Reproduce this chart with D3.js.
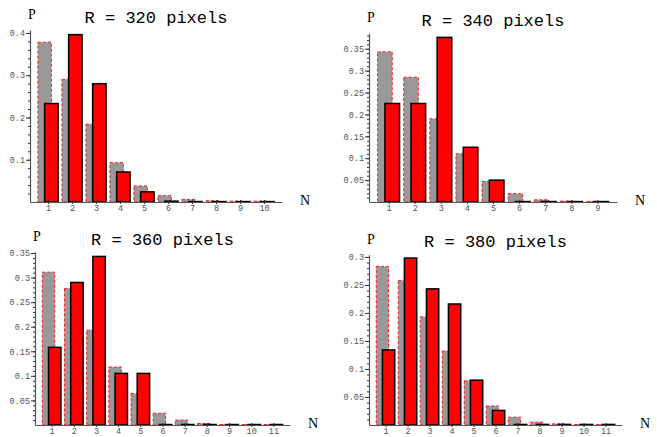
<!DOCTYPE html>
<html>
<head>
<meta charset="utf-8">
<script src="https://cdn.jsdelivr.net/npm/d3@7"></script>
<style>
  body { margin: 0; background: #fff; }
  svg { display: block; }
  .tick text { font-family: "Liberation Mono", "Courier New", monospace; font-size: 8.5px; fill: #555; }
  .domain { stroke: #555; }
  .tick line { stroke: #333; }
</style>
</head>
<body>
<div id="chart"></div>
<script>
var radii = [320, 340, 360, 380]

var exp320 = [0.378, 0.290, 0.184, 0.093, 0.038, 0.015, 0.006, 0.003, 0.002, 0.002]
var sim320 = [0.233, 0.396, 0.280, 0.071, 0.024, 0.002, 0.001, 0.001, 0.001, 0.001]

var exp340 = [0.343, 0.285, 0.190, 0.110, 0.047, 0.019, 0.005, 0.002, 0.001]
var sim340 = [0.225, 0.225, 0.376, 0.125, 0.050, 0.001, 0.001, 0.001, 0.001]

var exp360 = [0.311, 0.278, 0.193, 0.118, 0.064, 0.024, 0.010, 0.003, 0.001, 0.001, 0.001]
var sim360 = [0.158, 0.290, 0.343, 0.105, 0.105, 0.001, 0.001, 0.001, 0.001, 0.001, 0.001]

var exp380 = [0.283, 0.258, 0.193, 0.132, 0.079, 0.034, 0.014, 0.005, 0.002, 0.001, 0.001]
var sim380 = [0.134, 0.298, 0.243, 0.216, 0.080, 0.026, 0.001, 0.001, 0.001, 0.001, 0.001]

// Graduations de l'axe P
var ticks01  = [0.1, 0.2, 0.3, 0.4]
var ticks005 = [0.05, 0.1, 0.15, 0.2, 0.25, 0.3, 0.35]
var ticks005b = [0.05, 0.1, 0.15, 0.2, 0.25, 0.3]

// Haut de l'axe P pour chaque graphique
var yTops = [0.407, 0.386, 0.352, 0.304]

var expSeries = [exp320, exp340, exp360, exp380]
var simSeries = [sim320, sim340, sim360, sim380]
var yTickSets = [ticks01, ticks005, ticks005, ticks005b]
var minorSteps = [0.02, 0.01, 0.01, 0.01]

// Emplacement de chaque graphique (pixels)
var frames = [
  {left: 30,  right: 282, top: 30,    bottom: 202},
  {left: 369, right: 617, top: 33,    bottom: 202},
  {left: 35,  right: 290, top: 252,   bottom: 425},
  {left: 369, right: 622, top: 254.7, bottom: 425}
]

var svg = d3.select("#chart")
  .append("svg")
    .attr("width", 657)
    .attr("height", 437)

var barW = 0.56   // largeur d'une barre en unités de N
var shift = 0.14  // décalage des deux séries

radii.forEach(function(r, i) {
  var f = frames[i]
  var exp = expSeries[i], sim = simSeries[i]
  var n = exp.length
  var cats = d3.range(1, n + 1)

  var x = d3.scaleLinear().domain([0.25, n + 0.75]).range([f.left, f.right])
  var y = d3.scaleLinear().domain([0, yTops[i]]).range([f.bottom, f.top])
  var g = svg.append("g")

  // Barres grises (mesure)
  g.selectAll("rect.exp")
    .data(exp)
    .join("rect")
      .attr("class", "exp")
      .attr("x", (d, k) => x(cats[k] - shift - barW / 2))
      .attr("width", (d, k) => x(barW) - x(0))
      .attr("y", d => y(d))
      .attr("height", d => y(0) - y(d))
      .attr("fill", "#999")
      .attr("stroke", "#ff1a1a")
      .attr("stroke-width", 1)
      .attr("stroke-dasharray", "3,2")

  // Barres rouges (simulation)
  g.selectAll("rect.sim")
    .data(sim)
    .join("rect")
      .attr("class", "sim")
      .attr("x", (d, k) => x(cats[k] + shift - barW / 2))
      .attr("width", (d, k) => x(barW) - x(0))
      .attr("y", d => y(d))
      .attr("height", d => y(0) - y(d))
      .attr("fill", "#ff0000")
      .attr("stroke", "#000")
      .attr("stroke-width", 1.5)

  // Petites graduations de l'axe P
  var minor = d3.range(minorSteps[i], yTops[i], minorSteps[i])
  g.append("g")
    .attr("transform", "translate(" + f.left + ",0)")
    .call(d3.axisLeft(y).tickValues(minor).tickSize(2).tickFormat(""))
    .call(a => a.select(".domain").remove())

  // Axe P
  g.append("g")
    .attr("transform", "translate(" + f.left + ",0)")
    .call(d3.axisLeft(y).tickValues(yTickSets[i]).tickSize(4).tickSizeOuter(0).tickPadding(1)
      .tickFormat(d => String(+d.toFixed(2))))
    .call(a => a.select(".domain").attr("stroke-width", 1.2))

  // Axe N
  g.append("g")
    .attr("transform", "translate(0," + f.bottom + ")")
    .call(d3.axisBottom(x).tickValues(cats).tickSize(2).tickSizeOuter(0).tickPadding(1)
      .tickFormat(d3.format("d")))
    .call(a => a.select(".domain").attr("stroke-width", 1.2))
    .call(a => a.selectAll(".tick line").attr("y1", -2))

  // Titre et noms des axes
  g.append("text")
    .attr("x", (f.left + f.right) / 2)
    .attr("y", f.top - 7.5)
    .attr("text-anchor", "middle")
    .style("font-family", "'Liberation Mono', 'Courier New', monospace")
    .style("font-size", "17px")
    .text("R = " + r + " pixels")

  g.append("text")
    .attr("x", f.left - 2)
    .attr("y", f.top - 11)
    .style("font-family", "'Liberation Serif', 'Times New Roman', serif")
    .style("font-size", "14px")
    .text("P")

  g.append("text")
    .attr("x", f.right + 18)
    .attr("y", f.bottom + 3)
    .style("font-family", "'Liberation Serif', 'Times New Roman', serif")
    .style("font-size", "14px")
    .text("N")
})
</script>
</body>
</html>
